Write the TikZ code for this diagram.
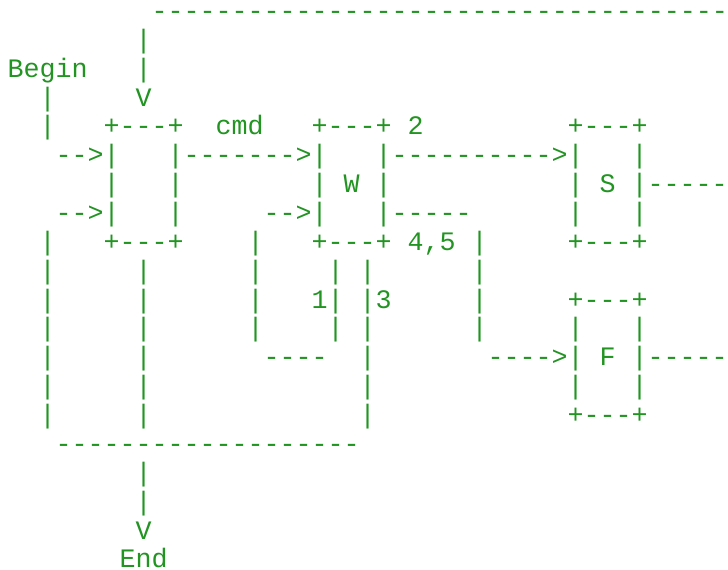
\documentclass[tikz,border=0pt]{standalone}
\usepackage{fontspec}
\setmonofont{Liberation Mono}
\definecolor{asciigreen}{RGB}{34,148,34}
\tikzset{
  chars/.style={anchor=base west,inner sep=0pt,outer sep=0pt,text=asciigreen,
    text height=15pt,text depth=0pt,
    font=\ttfamily\fontsize{26.67pt}{28.87pt}\selectfont}
}

\begin{document}
\begin{tikzpicture}
\useasboundingbox (0,0) rectangle (728pt,-570pt);
\begin{scope}[shift={(7.7pt,-19.4pt)},x=16pt,y=-28.87pt]
  % labels and boxes
  \path
  (0,2) node[chars](begin) {Begin}
  (8,3) node[chars](vin) {V}
  (6,4) node[chars](inboxtop) {+---+}
  (13,4) node[chars](cmd) {cmd}
  (19,4) node[chars](wtop) {+---+}
  (25,4) node[chars](two) {2}
  (35,4) node[chars](stop) {+---+}
  (21,6) node[chars](w) {W}
  (37,6) node[chars](s) {S}
  (6,8) node[chars](inboxbot) {+---+}
  (19,8) node[chars](wbot) {+---+}
  (25,8) node[chars](fourfive) {4,5}
  (35,8) node[chars](sbot) {+---+}
  (19,10) node[chars](one) {1|}
  (22,10) node[chars](three) {|3}
  (35,10) node[chars](ftop) {+---+}
  (37,12) node[chars](f) {F}
  (35,14) node[chars](fbot) {+---+}
  (8,18) node[chars](vout) {V}
  (7,19) node[chars](end) {End};

  % connectors
  \path
  (9,0) node[chars](loop) {------------------------------------}
  (3,5) node[chars](ina) {-->|}
  (10,5) node[chars](incmd) {|------->|}
  (23,5) node[chars](ws) {|---------->|}
  (39,5) node[chars](sside) {|}
  (6,6) node[chars](inside) {|}
  (10,6) node[chars](inside2) {|}
  (19,6) node[chars](wside) {|}
  (23,6) node[chars](wside2) {|}
  (35,6) node[chars](sside2) {|}
  (39,6) node[chars](sout) {|-----}
  (3,7) node[chars](inb) {-->|}
  (10,7) node[chars](inside3) {|}
  (16,7) node[chars](wina) {-->|}
  (23,7) node[chars](wf) {|-----}
  (35,7) node[chars](sside3) {|}
  (39,7) node[chars](sside4) {|}
  (16,12) node[chars](back) {----}
  (30,12) node[chars](tof) {---->|}
  (39,12) node[chars](fout) {|-----}
  (3,15) node[chars](join) {-------------------};

  % vertical runs
  \foreach \r in {1,2} \path (8,\r) node[chars](up\r) {|};
  \foreach \r in {3,4} \path (2,\r) node[chars](bg\r) {|};
  \foreach \r in {8,...,14} \path (2,\r) node[chars](la\r) {|};
  \foreach \r in {9,...,14} \path (8,\r) node[chars](lb\r) {|};
  \foreach \r in {8,...,11} \path (15,\r) node[chars](lc\r) {|};
  \foreach \r in {9,11} \path (20,\r) node[chars](ld\r) {|};
  \foreach \r in {9,11,12,13,14} \path (22,\r) node[chars](le\r) {|};
  \foreach \r in {8,...,11} \path (29,\r) node[chars](lf\r) {|};
  \foreach \r in {11,13} \path (35,\r) node[chars](fa\r) {|} (39,\r) node[chars](fb\r) {|};
  \foreach \r in {16,17} \path (8,\r) node[chars](dn\r) {|};
\end{scope}
\end{tikzpicture}
\end{document}
